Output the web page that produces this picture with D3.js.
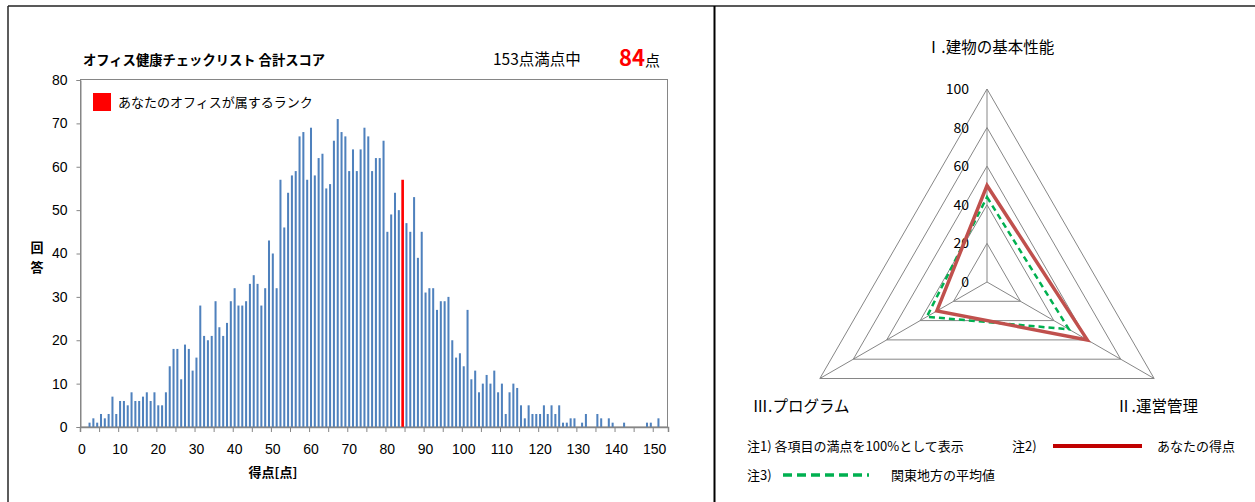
<!DOCTYPE html>
<html>
<head>
<meta charset="utf-8">
<script src="https://cdn.jsdelivr.net/npm/d3@7"></script>
<style>
  body { margin: 0; background: #fff; }
  svg { display: block; font-family: "Noto Sans CJK JP", "Noto Sans", sans-serif; }
</style>
</head>
<body>
<script>
// histogram: number of answers per total score (0..153)
var scoreCounts = [0, 0, 1, 2, 1, 3, 2, 3, 7, 3,
    6, 6, 5, 8, 6, 6, 7, 8, 6, 8,
    5, 5, 8, 14, 18, 18, 11, 19, 18, 13,
    16, 28, 21, 20, 21, 29, 23, 21, 24, 29,
    32, 28, 28, 29, 33, 35, 33, 28, 32, 43,
    40, 32, 57, 46, 54, 58, 59, 67, 68, 57,
    69, 58, 62, 63, 55, 56, 66, 71, 68, 67,
    59, 64, 59, 64, 69, 67, 59, 62, 62, 66,
    45, 49, 54, 50, 0, 47, 45, 53, 39, 45,
    31, 32, 32, 27, 29, 29, 30, 20, 16, 17,
    14, 27, 11, 13, 8, 10, 12, 10, 13, 8,
    10, 3, 8, 10, 9, 5, 2, 5, 3, 3,
    3, 5, 3, 5, 3, 5, 1, 1, 2, 2,
    0, 1, 3, 0, 0, 3, 2, 0, 2, 1,
    0, 0, 1, 0, 0, 0, 0, 0, 1, 1,
    0, 2, 0, 0];
var maxScore = 153;
var myScore = 84;
var myRankCount = 57;
var yTicks = [0, 10, 20, 30, 40, 50, 60, 70, 80];
var xLabelTicks = [0, 10, 20, 30, 40, 50, 60, 70, 80, 90, 100, 110, 120, 130, 140, 150];

// radar
var radarAxes = ["Ⅰ.建物の基本性能", "Ⅱ.運営管理", "Ⅲ.プログラム"];
var myValues = [50, 60, 30];
var kantoAvg = [44, 49, 36];
var radarLevels = [0, 20, 40, 60, 80, 100];

var svg = d3.select("body").append("svg")
    .attr("width", 1255)
    .attr("height", 502);

// frame lines
svg.append("line").attr("x1", 8).attr("x2", 1255).attr("y1", 6).attr("y2", 6)
    .attr("stroke", "#595959").attr("stroke-width", 2);
svg.append("line").attr("x1", 8).attr("x2", 8).attr("y1", 6).attr("y2", 502)
    .attr("stroke", "#262626").attr("stroke-width", 1.5);
svg.append("line").attr("x1", 714.5).attr("x2", 714.5).attr("y1", 6).attr("y2", 502)
    .attr("stroke", "#000").attr("stroke-width", 2);

// ---------- histogram ----------
var cats = d3.range(0, maxScore + 1);
var x = d3.scaleBand()
    .domain(cats)
    .range([80, 668])
    .paddingInner(0.47)
    .paddingOuter(0.235);
var xb = d3.scaleLinear().domain([0, maxScore + 1]).range([80, 668]);
var y = d3.scaleLinear().domain([0, 80]).range([427, 80]);

var g = svg.append("g");

g.append("rect")
    .attr("x", 80.5).attr("y", 79.5)
    .attr("width", 587).attr("height", 347.5)
    .attr("fill", "none").attr("stroke", "#868686");

g.selectAll("rect.bar")
    .data(scoreCounts)
    .enter().append("rect")
    .attr("class", "bar")
    .attr("x", function (d, i) { return x(i); })
    .attr("width", x.bandwidth())
    .attr("y", function (d) { return y(d); })
    .attr("height", function (d) { return y(0) - y(d); })
    .attr("fill", "#4F81BD");

g.append("rect")
    .attr("x", x(myScore) - 0.3)
    .attr("width", x.bandwidth() + 0.6)
    .attr("y", y(myRankCount))
    .attr("height", y(0) - y(myRankCount))
    .attr("fill", "#FF0000");

var yAxis = g.append("g")
    .attr("transform", "translate(80.5,0)")
    .call(d3.axisLeft(y).tickValues(yTicks).tickSize(4).tickPadding(9));
yAxis.select(".domain").attr("stroke", "#868686");
yAxis.selectAll("line").attr("stroke", "#868686");
yAxis.selectAll("text").style("font-size", "14px").attr("fill", "#000");

var xTickAxis = g.append("g")
    .attr("transform", "translate(0,427)")
    .call(d3.axisBottom(xb).tickValues(d3.range(0, maxScore + 2, 5)).tickSize(5).tickFormat(""));
xTickAxis.select(".domain").attr("stroke", "#868686").attr("stroke-width", 1.5);
xTickAxis.selectAll("line").attr("stroke", "#868686");

var xAxis = g.append("g")
    .attr("transform", "translate(0,427)")
    .call(d3.axisBottom(x).tickValues(xLabelTicks).tickSize(0).tickPadding(17));
xAxis.select(".domain").remove();
xAxis.selectAll("text").style("font-size", "14px").attr("fill", "#000");

g.append("text")
    .attr("x", 83).attr("y", 65)
    .style("font-size", "13.3px").style("font-weight", "bold")
    .text("オフィス健康チェックリスト 合計スコア");

g.append("text")
    .attr("x", 493).attr("y", 65)
    .style("font-size", "15.5px")
    .text("153点満点中");

var sc = g.append("text")
    .attr("x", 619).attr("y", 66);
sc.append("tspan").style("font-size", "22px").style("font-weight", "bold")
    .attr("fill", "#FF0000").text(myScore);
sc.append("tspan").style("font-size", "15px").text("点");

g.append("rect")
    .attr("x", 93).attr("y", 93).attr("width", 18).attr("height", 18)
    .attr("fill", "#FF0000");
g.append("text")
    .attr("x", 118).attr("y", 107)
    .style("font-size", "13px")
    .text("あなたのオフィスが属するランク");

g.append("text")
    .attr("x", 37).attr("y", 252)
    .attr("text-anchor", "middle")
    .style("font-size", "13px").style("font-weight", "bold")
    .text("回");
g.append("text")
    .attr("x", 37).attr("y", 272)
    .attr("text-anchor", "middle")
    .style("font-size", "13px").style("font-weight", "bold")
    .text("答");

g.append("text")
    .attr("x", 273).attr("y", 477)
    .attr("text-anchor", "middle")
    .style("font-size", "13px").style("font-weight", "bold")
    .text("得点[点]");

// ---------- radar ----------
var cx = 987, cy = 282;
var r = d3.scaleLinear().domain([0, 100]).range([0, 193]);
var angle = function (i) { return i * 2 * Math.PI / radarAxes.length; };

var rg = svg.append("g").attr("transform", "translate(" + cx + "," + cy + ")");

var radial = d3.lineRadial()
    .angle(function (d, i) { return angle(i); })
    .radius(function (d) { return r(d); })
    .curve(d3.curveLinearClosed);

radarLevels.slice(1).forEach(function (lv) {
    rg.append("path")
        .attr("d", radial(radarAxes.map(function () { return lv; })))
        .attr("fill", "none")
        .attr("stroke", "#868686");
});

radarAxes.forEach(function (a, i) {
    rg.append("line")
        .attr("x1", 0).attr("y1", 0)
        .attr("x2", r(100) * Math.sin(angle(i)))
        .attr("y2", -r(100) * Math.cos(angle(i)))
        .attr("stroke", "#868686");
});

rg.selectAll("text.lv")
    .data(radarLevels)
    .enter().append("text")
    .attr("class", "lv")
    .attr("x", -18)
    .attr("y", function (d) { return -r(d) + 5; })
    .attr("text-anchor", "end")
    .style("font-size", "14px")
    .text(function (d) { return d; });

rg.append("path")
    .attr("d", radial(kantoAvg))
    .attr("fill", "none")
    .attr("stroke", "#00B050")
    .attr("stroke-width", 2.5)
    .attr("stroke-dasharray", "6,4");

rg.append("path")
    .attr("d", radial(myValues))
    .attr("fill", "none")
    .attr("stroke", "#C0504D")
    .attr("stroke-width", 3.5)
    .attr("stroke-linejoin", "miter");

var labelPos = [[3, -229], [170, 130], [-186, 130]];
radarAxes.forEach(function (a, i) {
    rg.append("text")
        .attr("x", labelPos[i][0]).attr("y", labelPos[i][1])
        .attr("text-anchor", "middle")
        .style("font-size", "15.5px")
        .text(a);
});

// notes / legend
svg.append("text").attr("x", 747).attr("y", 451)
    .style("font-size", "13px").text("注1) 各項目の満点を100%として表示");
svg.append("text").attr("x", 1012).attr("y", 451)
    .style("font-size", "13px").text("注2)");
svg.append("line").attr("x1", 1053).attr("x2", 1142).attr("y1", 446).attr("y2", 446)
    .attr("stroke", "#C00000").attr("stroke-width", 4);
svg.append("text").attr("x", 1157).attr("y", 451)
    .style("font-size", "13px").text("あなたの得点");
svg.append("text").attr("x", 747).attr("y", 480)
    .style("font-size", "13px").text("注3)");
svg.append("line").attr("x1", 783).attr("x2", 869).attr("y1", 475).attr("y2", 475)
    .attr("stroke", "#00B050").attr("stroke-width", 3.5)
    .attr("stroke-dasharray", "9,5");
svg.append("text").attr("x", 891).attr("y", 480)
    .style("font-size", "13px").text("関東地方の平均値");
</script>
</body>
</html>
